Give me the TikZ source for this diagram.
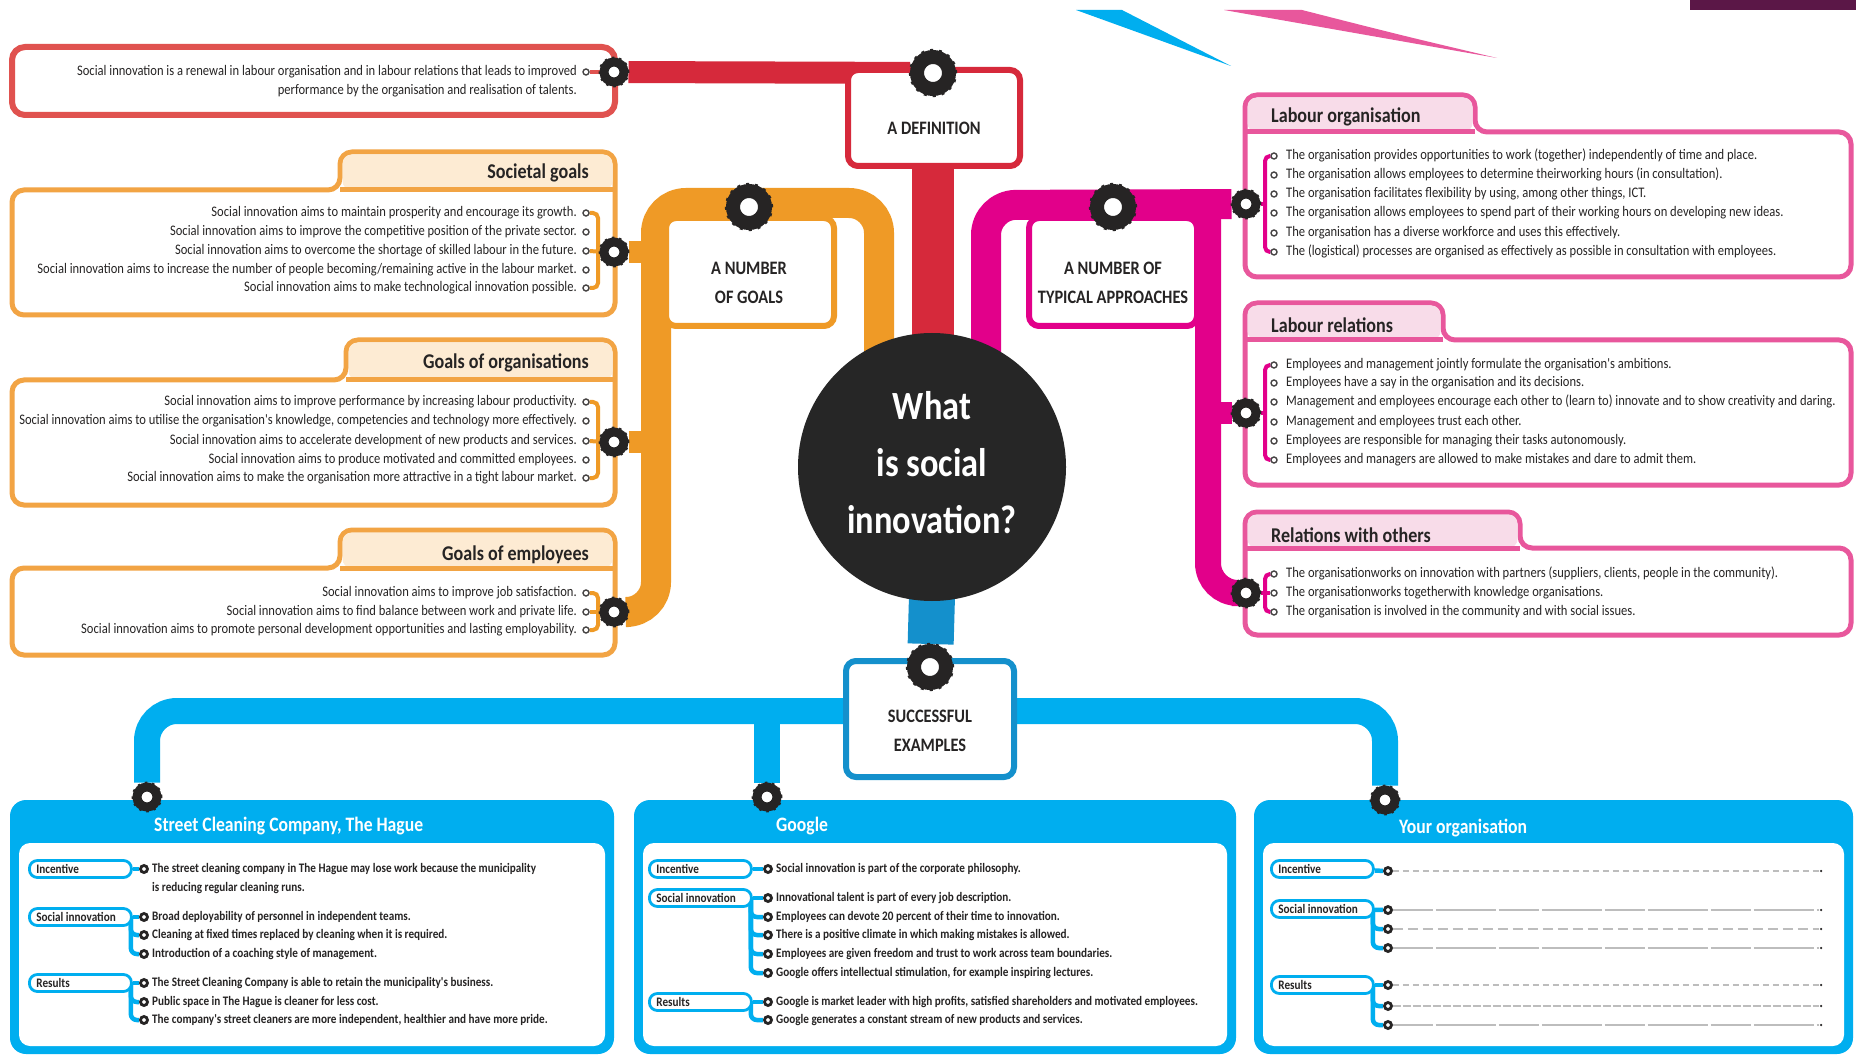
\documentclass[tikz,border=0pt]{standalone}
\usepackage{fontspec}
\setmainfont{Carlito}
\newfontfamily\nf[FakeStretch=0.86]{Carlito}
\usetikzlibrary{calc}
\pgfdeclarelayer{bg}\pgfdeclarelayer{boxes}\pgfdeclarelayer{conn}
\pgfsetlayers{bg,boxes,conn,main}
\definecolor{ink}{HTML}{262424}
\definecolor{redT}{HTML}{D6293B}
\definecolor{redL}{HTML}{E0524F}
\definecolor{oraT}{HTML}{EF9A26}
\definecolor{oraL}{HTML}{F2A444}
\definecolor{oraF}{HTML}{FDEBD3}
\definecolor{magT}{HTML}{E2008A}
\definecolor{magL}{HTML}{E8579C}
\definecolor{magF}{HTML}{F8DCE9}
\definecolor{cyanT}{HTML}{00AEEF}
\definecolor{blueD}{HTML}{1490CC}
\definecolor{purp}{HTML}{5B1747}
\definecolor{core}{HTML}{262626}
\definecolor{dashc}{HTML}{BDBDBD}
\tikzset{
 item/.style={font=\nf\fontsize{14.6}{16}\selectfont, text=ink, inner sep=0pt, text height=9.5pt, text depth=2.5pt},
 itemL/.style={item, anchor=east},
 itemR/.style={item, anchor=west},
 bitem/.style={font=\nf\bfseries\fontsize{13}{15}\selectfont, text=ink, inner sep=0pt, text height=8.5pt, text depth=2pt, anchor=west},
 bul/.style={circle, draw=ink!85, line width=1.4pt, fill=white, minimum size=6pt, inner sep=0pt},
 ringB/.style={circle, draw=ink, line width=14pt, fill=white, minimum size=32pt, inner sep=0pt},
 ringM/.style={circle, draw=ink, line width=9pt, fill=white, minimum size=20pt, inner sep=0pt},
 ringS/.style={circle, draw=ink, line width=2.8pt, fill=white, minimum size=7pt, inner sep=0pt},
 teethB/.style={ink, line width=2.4pt, dash pattern=on 3pt off 6pt},
 teethM/.style={ink, line width=1.8pt, dash pattern=on 2.5pt off 5pt},
 headbox/.style={draw=#1, line width=6pt, fill=white, rounded corners=10pt, inner sep=0pt},
 headtxt/.style={font=\nf\bfseries\fontsize{19}{29}\selectfont, text=ink, align=center, inner sep=0pt},
 tabL/.style={font=\nf\bfseries\fontsize{21}{23}\selectfont, text=ink, inner sep=0pt, anchor=east},
 tabR/.style={font=\nf\bfseries\fontsize{21}{23}\selectfont, text=ink, inner sep=0pt, anchor=west},
 btitle/.style={font=\nf\bfseries\fontsize{20.5}{22}\selectfont, text=white, inner sep=0pt, anchor=west},
 pill/.style={draw=cyanT, line width=2.8pt, fill=white, rounded corners=8pt, minimum height=17pt, minimum width=102pt, inner xsep=7pt, inner ysep=0pt, anchor=west, font=\nf\bfseries\fontsize{13}{15}\selectfont, text=ink},
 obrk/.style={oraT, line width=4pt, rounded corners=5pt},
 mbrk/.style={magT, line width=4pt, rounded corners=5pt},
 cbrk/.style={cyanT, line width=4.5pt, rounded corners=6pt},
 trunk/.style={line width=#1, line cap=butt, rounded corners=30pt},
 dline/.style={dashc, line width=1.2pt},
}
\newcommand{\pilltext}[1]{\makebox[88pt][l]{#1}}
\begin{document}
\begin{tikzpicture}[x=1pt,y=-1pt]
\useasboundingbox (0,0) rectangle (1856,1056);

% ---------- rings (main layer)
\node[ringB] (rdef) at (933,73) {};
\node[ringB] (rgoal) at (749,207) {};
\node[ringB] (rappr) at (1113,207) {};
\node[ringB] (rsucc) at (930,667) {};
\node[ringM] (rd1) at (614,72) {};
\node[ringM] (rs1) at (614,252) {};
\node[ringM] (ro1) at (614,442) {};
\node[ringM] (re1) at (614,612) {};
\node[ringM] (rlo) at (1246,204) {};
\node[ringM] (rlr) at (1246,413) {};
\node[ringM] (rrw) at (1246,593) {};
\node[ringM] (rsc) at (147,797) {};
\node[ringM] (rgg) at (767,797) {};
\node[ringM] (ryo) at (1385,800) {};
\foreach \r in {rdef,rgoal,rappr,rsucc} \draw[teethB] (\r) circle (23pt);
\foreach \r in {rd1,rs1,ro1,re1,rlo,rlr,rrw,rsc,rgg,ryo} \draw[teethM] (\r) circle (14.5pt);

% ---------- trunks (background)
\begin{pgfonlayer}{bg}
\fill[white] (0,0) rectangle (1856,1056);
\fill[cyanT] (1076,10) -- (1122,10) -- (1231,66) -- cycle;
\fill[magL] (1224,10) -- (1302,10) .. controls (1400,35) .. (1497,58) -- cycle;
\fill[purp] (1690,0) rectangle (1856,10);
\draw[redT, trunk=22pt] (rd1) -- (rdef);
\draw[redT, trunk=42pt] (rdef) -- (933,430);
\draw[oraT, trunk=30pt] (879,430) -- (879,203) -- (656,203) -- (656,612) -- (re1);
\draw[oraT, trunk=22pt] (rs1) -- (660,252);
\draw[oraT, trunk=22pt] (ro1) -- (660,442);
\draw[magT, trunk=30pt] (986,430) -- (986,205) -- (rlo);
\draw[magT, trunk=26pt] (1208,205) -- (1208,593) -- (rrw);
\draw[magT, trunk=22pt] (1204,413) -- (rlr);
\draw[blueD, trunk=46pt] (933,560) -- (rsucc);
\draw[cyanT, trunk=26pt] (rsc) -- (147,711) -- (1385,711) -- (ryo);
\draw[cyanT, trunk=26pt] (767,711) -- (rgg);
\end{pgfonlayer}

% ---------- boxes
\begin{pgfonlayer}{boxes}
\node[headbox=redT, minimum width=172pt, minimum height=96pt] (defbox) at (934,118) {};
\node[headbox=oraT, minimum width=168pt, minimum height=108pt] (goalbox) at (750,272) {};
\node[headbox=magT, minimum width=168pt, minimum height=108pt] (apprbox) at (1113,272) {};
\node[headbox=blueD, minimum width=168pt, minimum height=116pt] (succbox) at (930,719) {};
\node[circle, fill=core, minimum size=268pt, inner sep=0pt] (corec) at (932,467) {};
% definition text box
\draw[redL, line width=6pt, fill=white, rounded corners=13pt] (12,47) rectangle (615,115);
% left boxes with tabs
\foreach \tx/\ty/\by/\bb in {340/152/190/315, 346/340/380/505, 340/530/568/655}{
  \draw[oraL, line width=5pt, fill=white, rounded corners=12pt]
    (12,\by+40) -- (12,\by) -- (\tx,\by) -- (\tx,\ty) -- (615,\ty) -- (615,\bb) -- (12,\bb) -- cycle;
  \fill[oraF, rounded corners=9pt] (\tx+2.5,\ty+2.5) rectangle (612.5,\by);
  \draw[oraL, line width=5pt] (\tx,\by) -- (615,\by);
}
% right boxes with tabs
\foreach \tx/\ty/\by/\bb in {1475/95/132/277, 1443/303/340/485, 1520/512/548/635}{
  \draw[magL, line width=5pt, fill=white, rounded corners=12pt]
    (1245,\by+40) -- (1245,\ty) -- (\tx,\ty) -- (\tx,\by) -- (1851,\by) -- (1851,\bb) -- (1245,\bb) -- cycle;
  \fill[magF, rounded corners=9pt] (1247.5,\ty+2.5) rectangle (\tx-2.5,\by);
  \draw[magL, line width=5pt] (1245,\by) -- (\tx,\by);
}
% bottom boxes
\foreach \xa/\xb in {10/614, 634/1236, 1254/1853}{
  \fill[cyanT, rounded corners=16pt] (\xa,800) rectangle (\xb,1054);
  \fill[white, rounded corners=11pt] (\xa+9,843) rectangle (\xb-9,1046);
}
\end{pgfonlayer}

% ---------- head texts
\node[headtxt] (tdef) at (934,128) {A DEFINITION};
\node[headtxt] (tgoal) at (749,283) {A NUMBER\\OF GOALS};
\node[headtxt] (tappr) at (1113,283) {A NUMBER OF\\TYPICAL APPROACHES};
\node[headtxt] (tsucc) at (930,731) {SUCCESSFUL\\EXAMPLES};
\node[font=\nf\bfseries\fontsize{40}{57}\selectfont, text=white, align=center, inner sep=0pt] (coretext) at (932,463) {What\\is social\\innovation?};

% ---------- definition
\node[itemL] (d1) at (577,72) {Social innovation is a renewal in labour organisation and in labour relations that leads to improved};
\node[itemL] (d2) at (577,91) {performance by the organisation and realisation of talents.};
\node[bul] (db1) at (586,72) {};

% ---------- societal goals
\node[tabL] (tsoc) at (589,173) {Societal goals};
\node[itemL] (s1) at (577,213) {Social innovation aims to maintain prosperity and encourage its growth.};
\node[itemL] (s2) at (577,232) {Social innovation aims to improve the competitive position of the private sector.};
\node[itemL] (s3) at (577,251) {Social innovation aims to overcome the shortage of skilled labour in the future.};
\node[itemL] (s4) at (577,270) {Social innovation aims to increase the number of people becoming/remaining active in the labour market.};
\node[itemL] (s5) at (577,288) {Social innovation aims to make technological innovation possible.};
\foreach \i/\y in {1/213,2/232,3/251,4/270,5/288} \node[bul] (sb\i) at (586,\y) {};

% ---------- goals of organisations
\node[tabL] (torg) at (589,363) {Goals of organisations};
\node[itemL] (o1) at (577,402) {Social innovation aims to improve performance by increasing labour productivity.};
\node[itemL] (o2) at (577,421) {Social innovation aims to utilise the organisation's knowledge, competencies and technology more effectively.};
\node[itemL] (o3) at (577,441) {Social innovation aims to accelerate development of new products and services.};
\node[itemL] (o4) at (577,460) {Social innovation aims to produce motivated and committed employees.};
\node[itemL] (o5) at (577,478) {Social innovation aims to make the organisation more attractive in a tight labour market.};
\foreach \i/\y in {1/402,2/421,3/441,4/460,5/478} \node[bul] (ob\i) at (586,\y) {};

% ---------- goals of employees
\node[tabL] (temp) at (589,555) {Goals of employees};
\node[itemL] (e1) at (577,593) {Social innovation aims to improve job satisfaction.};
\node[itemL] (e2) at (577,612) {Social innovation aims to find balance between work and private life.};
\node[itemL] (e3) at (577,630) {Social innovation aims to promote personal development opportunities and lasting employability.};
\foreach \i/\y in {1/593,2/612,3/630} \node[bul] (eb\i) at (586,\y) {};

% ---------- labour organisation
\node[tabR] (tlo) at (1271,117) {Labour organisation};
\node[itemR] (l1) at (1286,156) {The organisation provides opportunities to work (together) independently of time and place.};
\node[itemR] (l2) at (1286,175) {The organisation allows employees to determine theirworking hours (in consultation).};
\node[itemR] (l3) at (1286,194) {The organisation facilitates flexibility by using, among other things, ICT.};
\node[itemR] (l4) at (1286,213) {The organisation allows employees to spend part of their working hours on developing new ideas.};
\node[itemR] (l5) at (1286,233) {The organisation has a diverse workforce and uses this effectively.};
\node[itemR] (l6) at (1286,252) {The (logistical) processes are organised as effectively as possible in consultation with employees.};
\foreach \i/\y in {1/156,2/175,3/194,4/213,5/233,6/252} \node[bul] (lb\i) at (1274,\y) {};

% ---------- labour relations
\node[tabR] (tlr) at (1271,325) {Labour relations};
\node[itemR] (r1) at (1286,365) {Employees and management jointly formulate the organisation's ambitions.};
\node[itemR] (r2) at (1286,383) {Employees have a say in the organisation and its decisions.};
\node[itemR] (r3) at (1286,402) {Management and employees encourage each other to (learn to) innovate and to show creativity and daring.};
\node[itemR] (r4) at (1286,422) {Management and employees trust each other.};
\node[itemR] (r5) at (1286,441) {Employees are responsible for managing their tasks autonomously.};
\node[itemR] (r6) at (1286,460) {Employees and managers are allowed to make mistakes and dare to admit them.};
\foreach \i/\y in {1/365,2/383,3/402,4/422,5/441,6/460} \node[bul] (rb\i) at (1274,\y) {};

% ---------- relations with others
\node[tabR] (trw) at (1271,535) {Relations with others};
\node[itemR] (w1) at (1286,574) {The organisationworks on innovation with partners (suppliers, clients, people in the community).};
\node[itemR] (w2) at (1286,593) {The organisationworks togetherwith knowledge organisations.};
\node[itemR] (w3) at (1286,612) {The organisation is involved in the community and with social issues.};
\foreach \i/\y in {1/574,2/593,3/612} \node[bul] (wb\i) at (1274,\y) {};

% ---------- brackets (left / right)
\begin{pgfonlayer}{conn}
\draw[redL, line width=4pt] (db1) -- (rd1);
\draw[obrk] (sb1) -- ++(12,0) |- (sb5);
\draw[obrk] (sb3) -- (rs1);
\draw[obrk] (ob1) -- ++(12,0) |- (ob5);
\draw[obrk] (ob3) -- (ro1);
\draw[obrk] (eb1) -- ++(12,0) |- (eb3);
\draw[obrk] (eb2) -- (re1);
\draw[mbrk] (lb1) -- ++(-9,0) |- (lb6);
\draw[mbrk] (rlo) -- (1266,204);
\draw[mbrk] (rb1) -- ++(-9,0) |- (rb6);
\draw[mbrk] (rlr) -- (1266,413);
\draw[mbrk] (wb1) -- ++(-9,0) |- (wb3);
\draw[mbrk] (rrw) -- (wb2);
\end{pgfonlayer}

% ---------- bottom: Street Cleaning
\node[btitle] (tsc) at (154,826) {Street Cleaning Company, The Hague};
\node[pill] (pa1) at (28,869) {\pilltext{Incentive}};
\node[pill] (pa2) at (28,917) {\pilltext{Social innovation}};
\node[pill] (pa3) at (28,983) {\pilltext{Results}};
\node[ringS] (ba1) at (144,869) {};
\node[ringS] (ba2) at (144,917) {};
\node[ringS] (ba3) at (144,935) {};
\node[ringS] (ba4) at (144,954) {};
\node[ringS] (ba5) at (144,983) {};
\node[ringS] (ba6) at (144,1002) {};
\node[ringS] (ba7) at (144,1020) {};
\node[bitem] (ta1) at (152,869) {The street cleaning company in The Hague may lose work because the municipality};
\node[bitem] (ta1b) at (152,888) {is reducing regular cleaning runs.};
\node[bitem] (ta2) at (152,917) {Broad deployability of personnel in independent teams.};
\node[bitem] (ta3) at (152,935) {Cleaning at fixed times replaced by cleaning when it is required.};
\node[bitem] (ta4) at (152,954) {Introduction of a coaching style of management.};
\node[bitem] (ta5) at (152,983) {The Street Cleaning Company is able to retain the municipality's business.};
\node[bitem] (ta6) at (152,1002) {Public space in The Hague is cleaner for less cost.};
\node[bitem] (ta7) at (152,1020) {The company's street cleaners are more independent, healthier and have more pride.};

% ---------- bottom: Google
\node[btitle] (tgg) at (776,826) {Google};
\node[pill] (pb1) at (648,869) {\pilltext{Incentive}};
\node[pill] (pb2) at (648,898) {\pilltext{Social innovation}};
\node[pill] (pb3) at (648,1002) {\pilltext{Results}};
\foreach \i/\y in {1/869,2/898,3/917,4/935,5/954,6/973,7/1002,8/1020} \node[ringS] (bb\i) at (768,\y) {};
\node[bitem] (tb1) at (776,869) {Social innovation is part of the corporate philosophy.};
\node[bitem] (tb2) at (776,898) {Innovational talent is part of every job description.};
\node[bitem] (tb3) at (776,917) {Employees can devote 20 percent of their time to innovation.};
\node[bitem] (tb4) at (776,935) {There is a positive climate in which making mistakes is allowed.};
\node[bitem] (tb5) at (776,954) {Employees are given freedom and trust to work across team boundaries.};
\node[bitem] (tb6) at (776,973) {Google offers intellectual stimulation, for example inspiring lectures.};
\node[bitem] (tb7) at (776,1002) {Google is market leader with high profits, satisfied shareholders and motivated employees.};
\node[bitem] (tb8) at (776,1020) {Google generates a constant stream of new products and services.};

% ---------- bottom: Your organisation
\node[btitle] (tyo) at (1399,828) {Your organisation};
\node[pill] (pc1) at (1270,869) {\pilltext{Incentive}};
\node[pill] (pc2) at (1270,909) {\pilltext{Social innovation}};
\node[pill] (pc3) at (1270,985) {\pilltext{Results}};
\foreach \i/\y in {1/871,2/910,3/929,4/948,5/985,6/1006,7/1025} {
  \node[ringS] (bc\i) at (1388,\y) {};
  \coordinate (ec\i) at (1819,\y);
  \node[circle, fill=ink, minimum size=2.5pt, inner sep=0pt] (dc\i) at (1821,\y) {};
}

\begin{pgfonlayer}{conn}
\draw[cbrk] (pa1) -- (ba1);
\draw[cbrk] (pa2) -- (ba2);
\draw[cbrk] ([xshift=-2pt]pa2.east) |- (ba3);
\draw[cbrk] ([xshift=-2pt]pa2.east) |- (ba4);
\draw[cbrk] (pa3) -- (ba5);
\draw[cbrk] ([xshift=-2pt]pa3.east) |- (ba6);
\draw[cbrk] ([xshift=-2pt]pa3.east) |- (ba7);
\draw[cbrk] (pb1) -- (bb1);
\draw[cbrk] (pb2) -- (bb2);
\foreach \i in {3,4,5,6} \draw[cbrk] ([xshift=-2pt]pb2.east) |- (bb\i);
\draw[cbrk] (pb3) -- (bb7);
\draw[cbrk] ([xshift=-2pt]pb3.east) |- (bb8);
\draw[cbrk] (pc1) -- (bc1);
\draw[cbrk] (pc2) -- (bc2);
\draw[cbrk] ([xshift=-2pt]pc2.east) |- (bc3);
\draw[cbrk] ([xshift=-2pt]pc2.east) |- (bc4);
\draw[cbrk] (pc3) -- (bc5);
\draw[cbrk] ([xshift=-2pt]pc3.east) |- (bc6);
\draw[cbrk] ([xshift=-2pt]pc3.east) |- (bc7);
\draw[dline, dash pattern=on 6pt off 4pt] (bc1) -- (ec1);
\draw[dline, dash pattern=on 40pt off 3pt on 60pt off 3pt] (bc2) -- (ec2);
\draw[dline, dash pattern=on 10pt off 5pt] (bc3) -- (ec3);
\draw[dline, dash pattern=on 40pt off 3pt on 60pt off 3pt] (bc4) -- (ec4);
\draw[dline, dash pattern=on 6pt off 4pt] (bc5) -- (ec5);
\draw[dline, dash pattern=on 8pt off 2pt] (bc6) -- (ec6);
\draw[dline, dash pattern=on 40pt off 3pt on 60pt off 3pt] (bc7) -- (ec7);
\end{pgfonlayer}
\end{tikzpicture}
\end{document}
